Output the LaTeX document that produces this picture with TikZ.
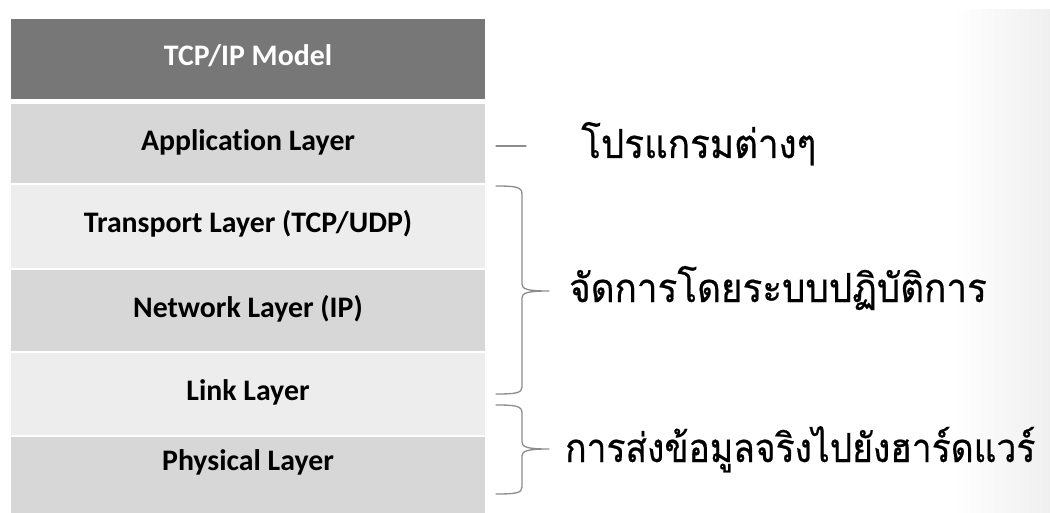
\documentclass[tikz,border=0pt]{standalone}
\usepackage{fontspec}
\newfontfamily\carlito[Ligatures=NoCommon]{Carlito}
\newfontfamily\thaifont[Script=Thai, FakeBold=0.5]{Loma}
\definecolor{hdrgray}{HTML}{777777}
\definecolor{darkrow}{HTML}{D7D7D7}
\definecolor{lightrow}{HTML}{EDEDED}
\definecolor{bracegray}{HTML}{8C8C8C}
\definecolor{shadegray}{HTML}{EFEFEF}
\newcommand{\thx}[2][0.92]{\scalebox{#1}[1]{#2}}
\tikzset{
  rowbox/.style={draw=none, minimum width=474pt, inner sep=0pt, outer sep=0pt},
  rowlabel/.style={anchor=base, inner sep=0pt, font=\carlito\bfseries\fontsize{29.8}{36}\selectfont},
  thailabel/.style={anchor=base west, inner sep=0pt, font=\thaifont\fontsize{40}{48}\selectfont},
  bracestyle/.style={draw=bracegray, line width=1.3pt, line cap=round, line join=round},
}
\begin{document}
\begin{tikzpicture}[x=1pt, y=-1pt]
\useasboundingbox (0,0) rectangle (1050,513);
\clip (0,0) rectangle (1050,513);
\fill[white] (0,0) rectangle (1050,513);
\shade[left color=white, right color=shadegray] (955,10) rectangle (1050,513);

% rows
\node[rowbox, fill=hdrgray, minimum height=80pt] (hdr) at (248,59) {};
\node[rowbox, fill=darkrow, minimum height=79pt] (app) at (248,143.5) {};
\node[rowbox, fill=lightrow, minimum height=83pt] (trn) at (248,226.5) {};
\node[rowbox, fill=darkrow, minimum height=81pt] (net) at (248,310.5) {};
\node[rowbox, fill=lightrow, minimum height=82pt] (lnk) at (248,394) {};
\node[rowbox, fill=darkrow, minimum height=83pt] (phy) at (248,478.5) {};

% row labels
\node[rowlabel, text=white] (hdrt) at (248,65.7) {TCP/IP Model};
\node[rowlabel] (appt) at (248,150.7) {Application Layer};
\node[rowlabel] (trnt) at (248,233) {Transport Layer (TCP/UDP)};
\node[rowlabel] (nett) at (248,317) {Network Layer (IP)};
\node[rowlabel] (lnkt) at (248,400) {Link Layer};
\node[rowlabel] (phyt) at (248,470) {Physical Layer};

% thai labels
\node[thailabel] (t1) at (581,158) {\thx{โปรแกรมต่างๆ}};
\node[thailabel] (t2) at (569,302) {\thx{จัดการโดยระบบปฏิบัติการ}};
\node[thailabel] (t3) at (565,462) {\thx[0.885]{การส่งข้อมูลจริงไปยังฮาร์ดแวร์}};

% dash
\coordinate (d1) at (496,146);
\coordinate (d2) at (526,146);
\draw[bracestyle] (d1) -- (d2);

% brace 1
\coordinate (b1top) at (496,186);
\coordinate (b1tip) at (549,291);
\coordinate (b1bot) at (496,394);
\draw[bracestyle] (b1top) .. controls (516,186) and (522,187) .. (522,194)
  -- (522,284) .. controls (522,289) and (527,291) .. (b1tip)
  .. controls (527,291) and (522,293) .. (522,298)
  -- (522,387) .. controls (522,393) and (516,394) .. (b1bot);

% brace 2
\coordinate (b2top) at (496,405);
\coordinate (b2tip) at (549,449);
\coordinate (b2bot) at (496,494);
\draw[bracestyle] (b2top) .. controls (516,405) and (522,406) .. (522,413)
  -- (522,442) .. controls (522,447) and (527,449) .. (b2tip)
  .. controls (527,449) and (522,451) .. (522,456)
  -- (522,487) .. controls (522,493) and (516,494) .. (b2bot);
\end{tikzpicture}
\end{document}
